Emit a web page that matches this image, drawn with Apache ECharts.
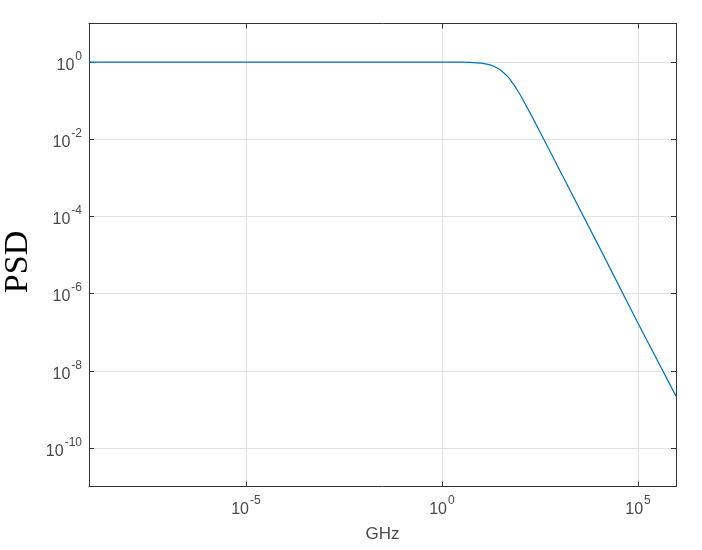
<!DOCTYPE html>
<html>
<head>
<meta charset="utf-8">
<script src="https://cdn.jsdelivr.net/npm/echarts@6/dist/echarts.min.js"></script>
<style>
  html, body { margin: 0; padding: 0; background: #fff; }
  #chart { width: 702px; height: 550px; }
</style>
</head>
<body>
<div id="chart"></div>
<script>
// Frequencies (GHz)
const freqGHz = [1e-9, 1e-8, 1e-7, 1e-6, 1e-5, 1e-4, 1e-3, 1e-2, 1e-1, 1,
                 3, 5, 10, 15, 20, 30, 40, 50, 70, 100, 200, 500, 1000, 1e4, 1e5, 9.3e5];
// PSD values
const psd = [1, 1, 1, 1, 1, 1, 1, 1, 1, 1,
             0.995, 0.985, 0.94, 0.87, 0.80, 0.64, 0.50, 0.40, 0.25, 0.14, 0.038, 0.0063, 0.0016, 1.7e-5, 1.7e-7, 2.2e-9];
// Tick labels
const xTicks = [1e-5, 1, 1e5];
const yTicks = [1e-10, 1e-8, 1e-6, 1e-4, 1e-2, 1];

const seriesData = freqGHz.map((f, i) => [f, psd[i]]);

const axisColor = '#333333';
const labelColor = '#4a4a4a';
const gridColor = '#e2e2e2';

function powLabel(v) {
  const e = Math.round(Math.log10(v));
  return '{b|10}{s|' + e + '}';
}
const richStyle = {
  b: { fontSize: 16, fontFamily: 'Liberation Sans', color: labelColor, padding: [7, 0, 0, 0] },
  s: { fontSize: 12, fontFamily: 'Liberation Sans', color: labelColor, verticalAlign: 'top', padding: [0, 0, 0, 1] }
};

const chart = echarts.init(document.getElementById('chart'), null, { renderer: 'canvas' });
chart.setOption({
  animation: false,
  backgroundColor: '#ffffff',
  grid: { left: 89, right: 26, top: 23.5, bottom: 63.5, containLabel: false, outerBoundsMode: 'none' },
  xAxis: [
    {
      type: 'log', logBase: 10, min: 1e-9, max: 9.3e5, position: 'bottom',
      name: 'GHz', nameLocation: 'middle', nameGap: 39,
      nameTextStyle: { fontSize: 17, fontFamily: 'Liberation Sans', color: labelColor },
      axisLine: { show: true, lineStyle: { color: axisColor, width: 1 } },
      axisTick: { show: true, inside: true, length: 5, customValues: xTicks, lineStyle: { color: axisColor } },
      axisLabel: { show: true, customValues: xTicks, margin: 8, formatter: powLabel, rich: richStyle },
      splitLine: { show: true, lineStyle: { color: gridColor, width: 1 } },
      minorTick: { show: false }
    },
    {
      type: 'log', logBase: 10, min: 1e-9, max: 9.3e5, position: 'top',
      axisLine: { show: true, lineStyle: { color: axisColor, width: 1 } },
      axisTick: { show: true, inside: true, length: 5, customValues: xTicks, lineStyle: { color: axisColor } },
      axisLabel: { show: false },
      splitLine: { show: false }
    }
  ],
  yAxis: [
    {
      type: 'log', logBase: 10, min: 1e-11, max: 10, position: 'left',
      name: 'PSD', nameLocation: 'middle', nameGap: 50,
      nameTextStyle: { fontSize: 34, fontFamily: 'Liberation Serif', color: '#000000', padding: [0, 14, 0, 0] },
      axisLine: { show: true, lineStyle: { color: axisColor, width: 1 } },
      axisTick: { show: true, inside: true, length: 5, customValues: yTicks, lineStyle: { color: axisColor } },
      axisLabel: { show: true, customValues: yTicks, margin: 7, formatter: powLabel, rich: richStyle },
      splitLine: { show: true, lineStyle: { color: gridColor, width: 1 } }
    },
    {
      type: 'log', logBase: 10, min: 1e-11, max: 10, position: 'right',
      axisLine: { show: true, lineStyle: { color: axisColor, width: 1 } },
      axisTick: { show: true, inside: true, length: 5, customValues: yTicks, lineStyle: { color: axisColor } },
      axisLabel: { show: false },
      splitLine: { show: false }
    }
  ],
  series: [
    {
      type: 'line',
      xAxisIndex: 0,
      yAxisIndex: 0,
      data: seriesData,
      showSymbol: false,
      smooth: false,
      lineStyle: { color: '#0072BD', width: 1.2 },
      itemStyle: { color: '#0072BD' }
    }
  ]
});
</script>
</body>
</html>
